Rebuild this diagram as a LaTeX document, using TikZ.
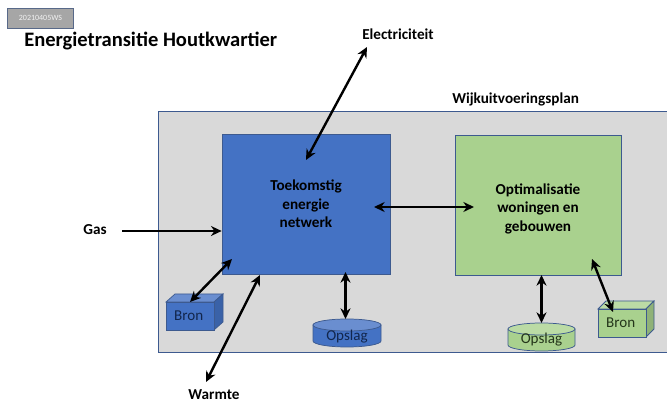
\documentclass[tikz,border=0pt]{standalone}
\usepackage{fontspec}
\setmainfont{Carlito}
\usetikzlibrary{arrows.meta}
\definecolor{panel}{HTML}{D9D9D9}
\definecolor{edge}{HTML}{3D5A8F}
\definecolor{bluef}{HTML}{4472C4}
\definecolor{bluetop}{HTML}{6A8ED0}
\definecolor{blueside}{HTML}{3A62A8}
\definecolor{greenf}{HTML}{A9D18E}
\definecolor{greentop}{HTML}{BBDBA5}
\definecolor{greenside}{HTML}{8FB278}
\definecolor{tagf}{HTML}{A6A6A6}
\definecolor{bluetxt}{HTML}{12264C}
\definecolor{greentxt}{HTML}{24361A}
\tikzset{
  x=0.75pt,y=-0.75pt,
  boxline/.style={draw=edge,line width=0.55pt},
  lbl/.style={font=\fontsize{11.4}{13.4}\selectfont\bfseries,text=black,align=center,inner sep=0pt},
  shapetxt/.style={font=\fontsize{11.3}{13}\selectfont,inner sep=0pt},
  biarrow/.style={draw=black,line width=1.8pt,{Stealth[length=8pt,width=7.5pt]}-{Stealth[length=8pt,width=7.5pt]}},
  oneway/.style={draw=black,line width=1.8pt,-{Stealth[length=8pt,width=7.5pt]}}
}
\begin{document}
\begin{tikzpicture}
\useasboundingbox (0,0) rectangle (667,402);
% tag and title
\node[draw=edge!60!gray,fill=tagf,line width=0.5pt,minimum width=66.5*0.75pt,minimum height=20*0.75pt,inner sep=0pt,font=\fontsize{6}{7}\selectfont,text=white!90!gray] (tag) at (40.5,18) {20210405WS};
\node[anchor=west,inner sep=0pt,font=\fontsize{15.4}{17}\selectfont\bfseries] (title) at (24,41.5) {Energietransitie Houtkwartier};
% panel
\path[fill=panel] (158,111) rectangle (668,352);
\draw[boxline] (668,111) -- (158,111) -- (158,352) -- (668,352);
\node[lbl,anchor=west] (wijk) at (452,99) {Wijkuitvoeringsplan};
% main boxes
\node[boxline,fill=bluef,minimum width=168*0.75pt,minimum height=140*0.75pt,inner sep=0pt,lbl] (net) at (306,204) {Toekomstig\\[0.5pt]energie\\[0.5pt]netwerk};
\node[boxline,fill=greenf,minimum width=166*0.75pt,minimum height=140*0.75pt,inner sep=0pt,lbl] (opt) at (538,205) {\rule{0pt}{2.5ex}Optimalisatie\\[0.5pt]woningen en\\[0.5pt]gebouwen};
% blue Bron
\path[boxline,fill=bluetop] (166,302) -- (175,294) -- (223,294) -- (214,302) -- cycle;
\path[boxline,fill=blueside] (214,302) -- (223,294) -- (223,322) -- (214,330) -- cycle;
\node[boxline,fill=bluef,minimum width=48*0.75pt,minimum height=28*0.75pt,inner sep=0pt,shapetxt,text=bluetxt] (bronb) at (190,316) {\hspace{-2pt}\raisebox{-1pt}{Bron}};
% green Bron
\path[boxline,fill=greentop] (598,309) -- (606,301) -- (654,301) -- (646,309) -- cycle;
\path[boxline,fill=greenside] (646,309) -- (654,301) -- (654,329) -- (646,337) -- cycle;
\node[boxline,fill=greenf,minimum width=48*0.75pt,minimum height=28*0.75pt,inner sep=0pt,shapetxt,text=greentxt] (brong) at (622,323) {\hspace{-2pt}Bron};
% blue Opslag
\path[boxline,fill=bluef] (313,325) -- (313,341) arc[start angle=180,end angle=0,x radius=34,y radius=6] -- (381,325) -- cycle;
\path[boxline,fill=bluetop] (347,325) ellipse[x radius=34,y radius=6];
\node[shapetxt,text=bluetxt] (opsb) at (347,337) {Opslag};
% green Opslag
\path[boxline,fill=greenf] (508,329) -- (508,345) arc[start angle=180,end angle=0,x radius=33.5,y radius=6] -- (575,329) -- cycle;
\path[boxline,fill=greentop] (541.5,329) ellipse[x radius=33.5,y radius=6];
\node[shapetxt,text=greentxt] (opsg) at (541.5,340) {Opslag};
% outer labels
\node[lbl] (elec) at (398,34) {Electriciteit};
\node[lbl] (gas) at (95,230) {Gas};
\node[lbl] (warm) at (214,395) {Warmte};
% connector ends
\coordinate (elecA) at (367,47);
\coordinate (elecB) at (306,160);
\coordinate (gasA) at (122,231);
\coordinate (warmA) at (206,382);
\coordinate (warmB) at (260,275);
\coordinate (bronA) at (190,302);
\coordinate (bronB) at (232,259);
\coordinate (opsA) at (345.5,319);
\coordinate (opsB) at (345.5,272);
\coordinate (midA) at (374,207);
\coordinate (midB) at (474,207);
\coordinate (opgA) at (541.5,323);
\coordinate (opgB) at (541.5,275);
\coordinate (brgA) at (613,312);
\coordinate (brgB) at (592,259);
% connectors
\draw[biarrow] (elecA) -- (elecB);
\draw[oneway] (gasA) -- (net.west |- gasA);
\draw[biarrow] (warmA) -- (warmB);
\draw[biarrow] (bronA) -- (bronB);
\draw[biarrow] (opsA) -- (opsB);
\draw[biarrow] (midA) -- (midB);
\draw[biarrow] (opgA) -- (opgB);
\draw[biarrow] (brgA) -- (brgB);
\end{tikzpicture}
\end{document}
